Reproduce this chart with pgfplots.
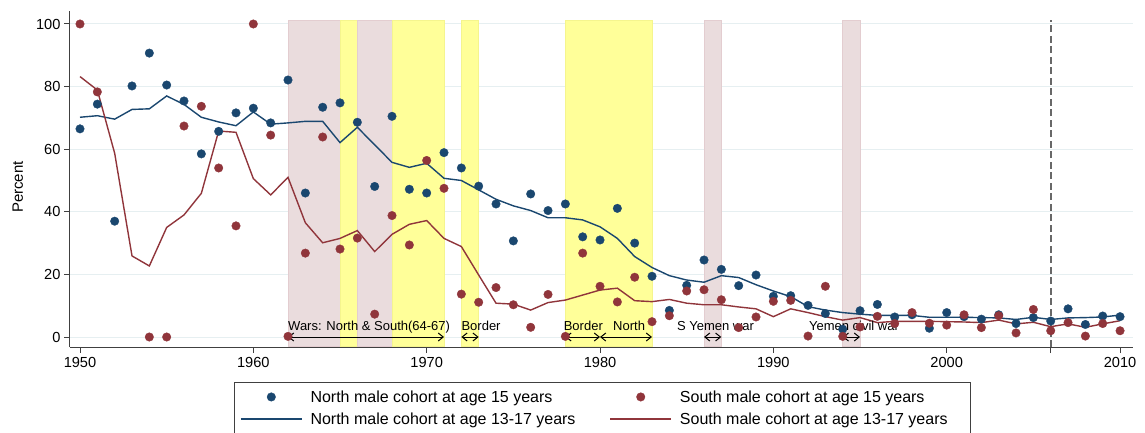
\documentclass[border=0pt]{standalone}
\usepackage{fontspec}
\setmainfont{Liberation Sans}
\usepackage{pgfplots}
\usepackage{pgfplotstable}
\pgfplotsset{compat=1.18}
\usetikzlibrary{arrows.meta}
\definecolor{navyS}{HTML}{1A476F}
\definecolor{maroonS}{HTML}{90353B}
\definecolor{pinkS}{HTML}{EADCDD}
\definecolor{pinkE}{HTML}{E3CDD0}
\definecolor{yelS}{HTML}{FFFF99}
\definecolor{yelE}{HTML}{F5F58E}
\definecolor{gridS}{HTML}{E6EFF1}
\definecolor{axisS}{HTML}{404040}
\definecolor{dashS}{HTML}{686868}

\pgfplotsset{
  dotlegend/.style={legend image code/.code={\draw[##1, mark repeat=1] plot coordinates {(30.5pt,0pt)};}},
  linelegend/.style={legend image code/.code={\draw[##1] (0pt,0pt) -- (61pt,0pt);}},
}

\pgfplotstableread{
year val
1950 66.5
1951 74.4
1952 37.0
1953 80.2
1954 90.7
1955 80.5
1956 75.4
1957 58.5
1958 65.7
1959 71.6
1960 73.1
1961 68.4
1962 82.1
1963 46.0
1964 73.4
1965 74.8
1966 68.6
1967 48.1
1968 70.5
1969 47.2
1970 46.0
1971 58.9
1972 54.0
1973 48.2
1974 42.5
1975 30.7
1976 45.7
1977 40.4
1978 42.5
1979 32.0
1980 31.0
1981 41.1
1982 30.0
1983 19.4
1984 8.5
1985 16.5
1986 24.6
1987 21.6
1988 16.4
1989 19.8
1990 13.0
1991 13.2
1992 10.1
1993 7.5
1994 2.5
1995 8.4
1996 10.4
1997 6.4
1998 7.1
1999 2.8
2000 7.8
2001 6.5
2002 5.7
2003 7.1
2004 4.3
2005 6.2
2006 5.1
2007 9.0
2008 4.0
2009 6.7
2010 6.5
}\northdots

\pgfplotstableread{
year val
1950 100
1951 78.3
1954 0
1955 0
1956 67.4
1957 73.7
1958 54.0
1959 35.5
1960 100
1961 64.5
1962 0.2
1963 26.8
1964 63.9
1965 28.1
1966 31.6
1967 7.3
1968 38.8
1969 29.4
1970 56.4
1971 47.5
1972 13.7
1973 11.1
1974 15.8
1975 10.3
1976 3.1
1977 13.6
1978 0.2
1979 26.8
1980 16.2
1981 11.2
1982 19.1
1983 4.9
1984 6.8
1985 14.7
1986 15.1
1987 11.9
1988 3.0
1989 6.4
1990 11.4
1991 11.7
1992 0.3
1993 16.2
1994 0.2
1995 3.2
1996 6.6
1997 4.3
1998 7.8
1999 4.4
2000 3.8
2001 7.1
2002 3.0
2003 6.8
2004 1.3
2005 8.8
2006 2.0
2007 4.6
2008 0.3
2009 4.3
2010 2.0
}\southdots

\pgfplotstableread{
year val
1950 70.2
1951 70.7
1952 69.6
1953 72.7
1954 72.9
1955 77.0
1956 74.3
1957 70.2
1958 68.7
1959 67.5
1960 71.9
1961 68.0
1962 68.4
1963 68.9
1964 68.9
1965 62.1
1966 67.0
1967 61.4
1968 55.8
1969 54.2
1970 55.5
1971 50.7
1972 50.0
1973 47.0
1974 44.0
1975 41.9
1976 40.4
1977 38.1
1978 38.1
1979 37.4
1980 35.2
1981 31.5
1982 25.7
1983 22.2
1984 19.6
1985 18.2
1986 17.5
1987 19.6
1988 19.0
1989 16.7
1990 14.7
1991 12.9
1992 9.7
1993 8.6
1994 7.8
1995 7.3
1996 6.9
1997 6.9
1998 6.9
1999 6.3
2000 6.3
2001 6.3
2002 6.2
2003 6.1
2004 5.6
2005 6.3
2006 5.6
2007 6.1
2008 6.2
2009 6.4
2010 7.0
}\northline

\pgfplotstableread{
year val
1950 83.2
1951 78.9
1952 58.7
1953 25.9
1954 22.7
1955 35.0
1956 39.0
1957 45.9
1958 65.8
1959 65.4
1960 50.6
1961 45.4
1962 51.0
1963 36.5
1964 30.1
1965 31.5
1966 34.0
1967 27.3
1968 32.8
1969 36.0
1970 37.2
1971 31.5
1972 28.9
1973 19.8
1974 10.8
1975 10.5
1976 8.6
1977 11.0
1978 11.8
1979 13.4
1980 15.0
1981 15.6
1982 11.6
1983 11.3
1984 12.0
1985 10.8
1986 10.3
1987 10.3
1988 9.6
1989 9.0
1990 6.5
1991 9.0
1992 7.8
1993 6.5
1994 5.4
1995 6.2
1996 4.6
1997 5.0
1998 5.0
1999 5.0
2000 4.9
2001 4.8
2002 4.6
2003 5.4
2004 4.2
2005 4.7
2006 3.3
2007 4.2
2008 3.1
2009 4.2
2010 5.2
}\southline

\begin{document}
\begin{tikzpicture}
\begin{axis}[
  at={(0pt,0pt)}, anchor=south west,
  scale only axis, width=1063pt, height=336pt,
  xmin=1949.423, xmax=2010.75, ymin=-3.195, ymax=104.15,
  axis x line*=bottom, axis y line*=left,
  axis line style={axisS, line width=1pt, -},
  xtick={1950,1960,...,2010}, ytick={0,20,...,100},
  extra x ticks={2006}, extra x tick labels={},
  tick align=outside, tick style={axisS, line width=1pt}, major tick length=6pt,
  ymajorgrids, grid style={gridS, line width=1pt},
  /pgf/number format/assume math mode=true,
  /pgf/number format/1000 sep={},
  tick label style={font=\fontsize{14.6}{17}\selectfont, text=black},
  xticklabel style={yshift=-1pt},
  ylabel={Percent},
  ylabel style={font=\fontsize{15}{18}\selectfont, at={(axis description cs:-0.049,0.476)}, anchor=center},
  legend columns=2,
  legend cell align=left,
  legend style={at={(axis description cs:0.1540,-0.1042)}, anchor=north west,
    draw=axisS, line width=0.8pt, font=\fontsize{16}{19}\selectfont,
    /tikz/every odd column/.append style={column sep=6pt},
    /tikz/every even column/.append style={column sep=32pt},
    row sep=5pt, inner xsep=6pt, inner ysep=6pt},
]
% shaded periods
\fill[pinkS, draw=pinkE, line width=0.6pt] (axis cs:1962,-2.9) rectangle (axis cs:1965,101.3);
\fill[yelS, draw=yelE, line width=0.6pt] (axis cs:1965,-2.9) rectangle (axis cs:1966,101.3);
\fill[pinkS, draw=pinkE, line width=0.6pt] (axis cs:1966,-2.9) rectangle (axis cs:1968,101.3);
\fill[yelS, draw=yelE, line width=0.6pt] (axis cs:1968,-2.9) rectangle (axis cs:1971,101.3);
\fill[yelS, draw=yelE, line width=0.6pt] (axis cs:1972,-2.9) rectangle (axis cs:1973,101.3);
\fill[yelS, draw=yelE, line width=0.6pt] (axis cs:1978,-2.9) rectangle (axis cs:1983,101.3);
\fill[pinkS, draw=pinkE, line width=0.6pt] (axis cs:1986,-2.9) rectangle (axis cs:1987,101.3);
\fill[pinkS, draw=pinkE, line width=0.6pt] (axis cs:1994,-2.9) rectangle (axis cs:1995,101.3);
\draw[dashS, line width=1.8pt, dash pattern=on 7pt off 3.5pt] (axis cs:2006,-3.195) -- (axis cs:2006,101.3);

\addplot[only marks, mark=*, mark size=4.3pt, mark options={draw=navyS, fill=navyS, line width=0.3pt}, dotlegend]
  table[x=year, y=val] {\northdots};
\addlegendentry{North male cohort at age 15 years}
\addplot[only marks, mark=*, mark size=4.3pt, mark options={draw=maroonS, fill=maroonS, line width=0.3pt}, dotlegend]
  table[x=year, y=val] {\southdots};
\addlegendentry{South male cohort at age 15 years}
\addplot[navyS, line width=1.4pt, mark=none, linelegend]
  table[x=year, y=val] {\northline};
\addlegendentry{North male cohort at age 13-17 years}
\addplot[maroonS, line width=1.4pt, mark=none, linelegend]
  table[x=year, y=val] {\southline};
\addlegendentry{South male cohort at age 13-17 years\hspace*{15pt}}

% war arrows and labels
\draw[{Straight Barb[length=5pt,width=8pt]}-{Straight Barb[length=5pt,width=8pt]}, line width=1pt] (axis cs:1962,0) -- (axis cs:1971,0);
\draw[{Straight Barb[length=5pt,width=8pt]}-{Straight Barb[length=5pt,width=8pt]}, line width=1pt] (axis cs:1972,0) -- (axis cs:1973,0);
\draw[{Straight Barb[length=5pt,width=8pt]}-{Straight Barb[length=5pt,width=8pt]}, line width=1pt] (axis cs:1978,0) -- (axis cs:1980,0);
\draw[{Straight Barb[length=5pt,width=8pt]}-{Straight Barb[length=5pt,width=8pt]}, line width=1pt] (axis cs:1980,0) -- (axis cs:1983,0);
\draw[{Straight Barb[length=5pt,width=8pt]}-{Straight Barb[length=5pt,width=8pt]}, line width=1pt] (axis cs:1986,0) -- (axis cs:1987,0);
\draw[{Straight Barb[length=5pt,width=8pt]}-{Straight Barb[length=5pt,width=8pt]}, line width=1pt] (axis cs:1994,0) -- (axis cs:1995,0);
\node[anchor=base west, inner sep=0pt, font=\fontsize{13}{15}\selectfont] at (axis cs:1962,2.2) {Wars: North \& South(64-67)};
\node[anchor=base west, inner sep=0pt, font=\fontsize{13}{15}\selectfont] at (axis cs:1972,2.2) {Border};
\node[anchor=base west, inner sep=0pt, font=\fontsize{13}{15}\selectfont] at (axis cs:1977.9,2.2) {Border};
\node[anchor=base west, inner sep=0pt, font=\fontsize{13}{15}\selectfont] at (axis cs:1980.75,2.2) {North};
\node[anchor=base west, inner sep=0pt, font=\fontsize{13}{15}\selectfont] at (axis cs:1984.43,2.2) {S Yemen war};
\node[anchor=base west, inner sep=0pt, font=\fontsize{13}{15}\selectfont] at (axis cs:1992.05,2.2) {Yemen civil war};
\end{axis}
\pgfresetboundingbox
\path[use as bounding box] (-70pt,-85pt) rectangle (1075pt,347pt);
\end{tikzpicture}
\end{document}
